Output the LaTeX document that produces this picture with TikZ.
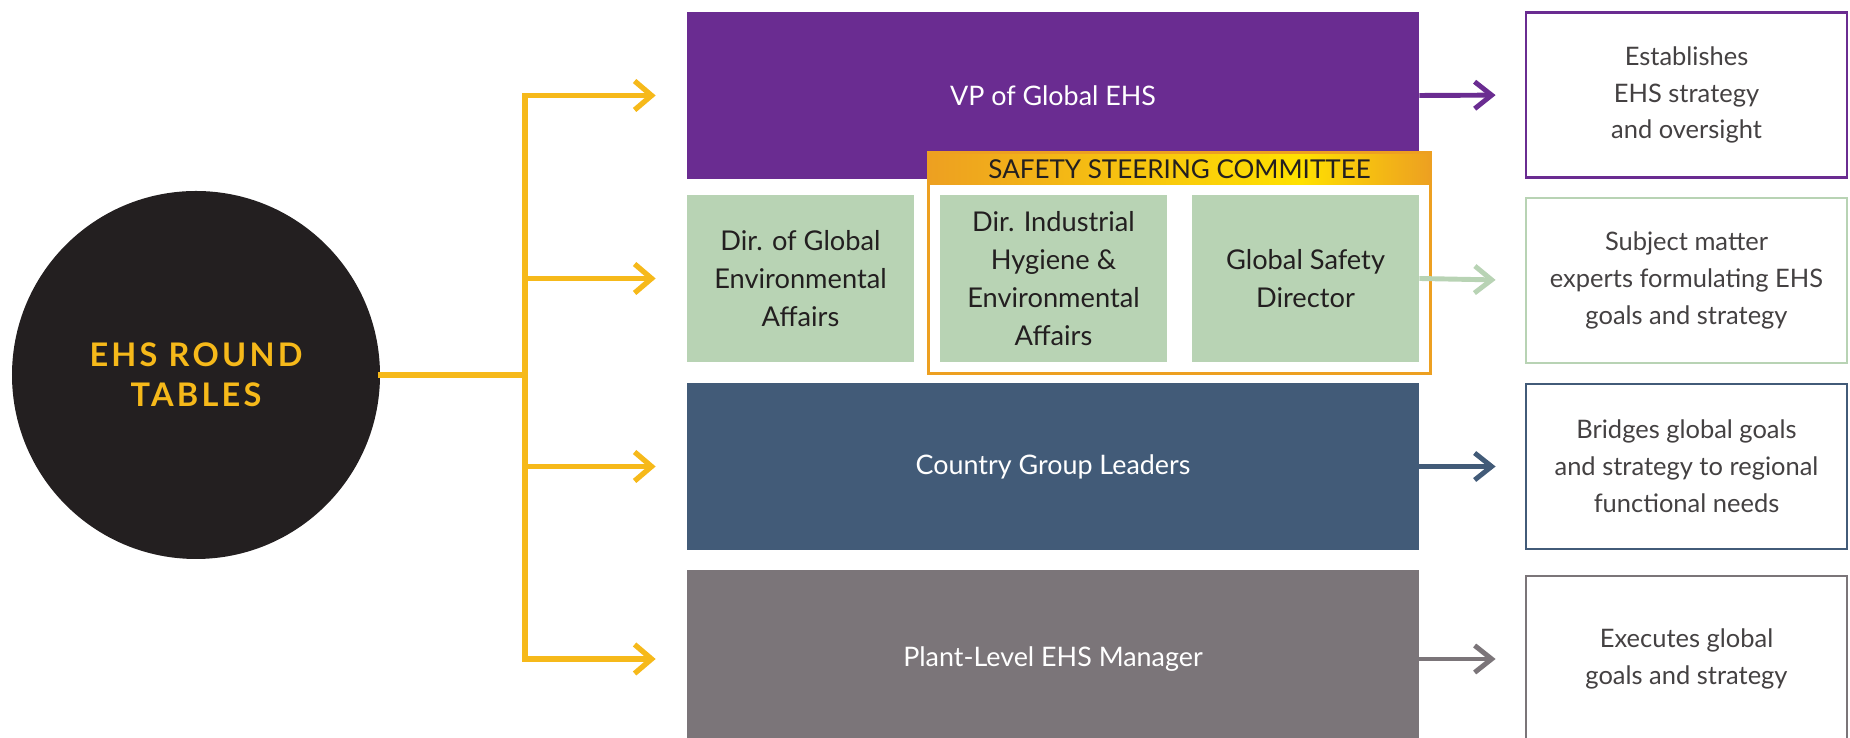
\documentclass[tikz,border=0pt]{standalone}
\usepackage{fontspec}
\setmainfont{Lato}
\newfontfamily\tablefont{Lato}[LetterSpace=10]
\usetikzlibrary{arrows.meta,positioning,calc}

\definecolor{ehspurple}{HTML}{6A2C91}
\definecolor{ehsgreen}{HTML}{B8D3B4}
\definecolor{ehsblue}{HTML}{425B78}
\definecolor{ehsgray}{HTML}{7B7579}
\definecolor{ehsblack}{HTML}{231F20}
\definecolor{steerorange}{HTML}{EDA021}
\definecolor{steeryellow}{HTML}{FFE100}
\definecolor{feedorange}{HTML}{F6B91A}

\pgfdeclarehorizontalshading{steershade}{100bp}{%
  color(0bp)=(steerorange); color(25bp)=(steerorange);
  color(62bp)=(steeryellow); color(75bp)=(steerorange);
  color(100bp)=(steerorange)}

\begin{document}
\begin{tikzpicture}[
    roundtable/.style={circle,fill=ehsblack,minimum size=7.36cm,inner sep=0pt,align=center,
      text=feedorange,font=\tablefont\bfseries\fontsize{18.5}{23}\selectfont},
    rolebar/.style={minimum width=14.64cm,minimum height=3.34cm,inner sep=0pt,text=white,
      font=\fontsize{15.3}{21}\selectfont},
    rolebox/.style={fill=ehsgreen,minimum width=4.54cm,minimum height=3.34cm,inner sep=0pt,
      align=center,text=ehsblack,font=\fontsize{15.5}{21.5}\selectfont},
    notebox/.style={draw=#1,line width=1.6pt,fill=white,minimum width=6.42cm,minimum height=3.3cm,
      inner sep=0pt,align=center,text=ehsblack!85,font=\fontsize{14.5}{21}\selectfont},
    steerhead/.style={shade,shading=steershade,minimum width=10.02cm,minimum height=0.64cm,
      inner sep=0pt,text=ehsblack,font=\fontsize{14.8}{16}\selectfont},
    steerframe/.style={draw=steerorange,line width=1.7pt},
    feed/.style={-{Straight Barb[length=0.34cm,width=0.58cm]},draw=feedorange,line width=3pt,
      shorten >=0.62cm},
    trunk/.style={draw=feedorange,line width=3pt,line cap=rect},
    link/.style={-{Straight Barb[length=0.34cm,width=0.54cm]},draw=#1,line width=2.8pt,
      shorten >=0.58cm}
  ]
    \useasboundingbox (0,0) rectangle (37.00,14.76);

    \node[roundtable] (ehs) at (3.92,7.26) {EHS ROUND\\TABLES};

    \node[rolebar,fill=ehspurple] (vp) at (21.06,12.85) {VP of Global EHS};
    \node[rolebox] (envdir) at (16.01,9.19) {Dir. of Global\\Environmental\\Affairs};
    \node[rolebox] (ihdir) at (21.07,9.19) {Dir. Industrial\\Hygiene \&\\Environmental\\Affairs};
    \node[rolebox] (gsd) at (26.11,9.19) {Global Safety\\Director};
    \node[rolebar,fill=ehsblue] (country) at (21.06,5.43) {Country Group Leaders};
    \node[rolebar,fill=ehsgray,minimum height=3.56cm] (plant) at (21.06,1.58) {Plant-Level EHS Manager};

    \node[steerhead] (steer) at (23.59,11.38) {SAFETY STEERING COMMITTEE};
    \draw[steerframe] (steer.north west) rectangle ([yshift=-0.22cm]ihdir.south -| steer.east);

    \node[notebox=ehspurple] (vpnote) at (33.73,12.86) {Establishes\\EHS strategy\\and oversight};
    \node[notebox=ehsgreen] (gsdnote) at (33.73,9.15) {Subject matter\\experts formulating EHS\\goals and strategy};
    \node[notebox=ehsblue] (countrynote) at (33.73,5.43) {Bridges global goals\\and strategy to regional\\functional needs};
    \node[notebox=ehsgray,minimum height=3.32cm] (plantnote) at (33.73,1.58) {Executes global\\goals and strategy};

    \coordinate (hub) at (10.50,7.26);
    \draw[trunk] (ehs.east) -- (hub);
    \draw[trunk] (hub |- vp.west) -- (hub |- plant.west);
    \foreach \role in {vp,envdir,country,plant} {
      \draw[feed] (hub |- \role.west) -- (\role.west);
    }
    \foreach \role/\note/\col in {vp/vpnote/ehspurple,gsd/gsdnote/ehsgreen,
        country/countrynote/ehsblue,plant/plantnote/ehsgray} {
      \draw[link=\col] (\role.east) -- (\note.west);
    }
\end{tikzpicture}
\end{document}
